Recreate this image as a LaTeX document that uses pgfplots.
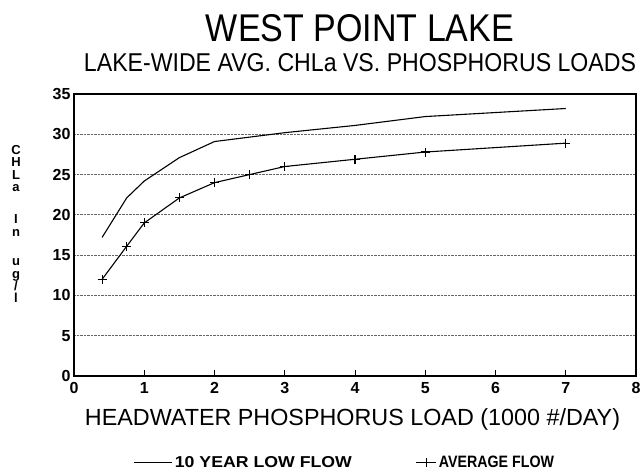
\documentclass[border=0pt]{standalone}
\usepackage{fontspec}
\setmainfont{Liberation Sans}
\usepackage{pgfplots}
\pgfplotsset{compat=1.18}
\begin{document}
\begin{tikzpicture}[x=1pt,y=1pt]
\path[use as bounding box] (0,0) rectangle (644,475);
\begin{axis}[
  at={(74pt,99pt)}, anchor=south west,
  scale only axis, width=562pt, height=282pt,
  xmin=0, xmax=8, ymin=0, ymax=35,
  xtick={0,...,8}, ytick={0,5,...,35},
  /pgf/number format/assume math mode=true,
  ticklabel style={font=\bfseries\fontsize{16}{16}\selectfont},
  xticklabel style={yshift=-3pt},
  xtick align=inside, xtick pos=left, major tick length=6pt,
  ytick style={draw=none},
  ymajorgrids, grid style={black!60, densely dotted, line width=0.8pt},
  axis line style={line width=1.3pt},
  xtick style={line width=1pt, black},
  legend columns=2,
  legend style={at={(0.482,-0.307)}, anchor=center, draw=none, fill=none,
    nodes={inner sep=2pt},
    /tikz/every even column/.append style={column sep=62pt}},
  clip=false
]
\addplot[black, line width=1.1pt,
  legend image code/.code={\draw (0pt,0pt) -- (38pt,0pt);}]
  coordinates {(0.4,17.2) (0.75,22.1) (1.0,24.2) (1.5,27.1) (2.0,29.1) (3.0,30.2) (4.0,31.1) (5.0,32.2) (7.0,33.2)};
\addlegendentry{\resizebox{177pt}{11pt}{\bfseries 10 YEAR LOW FLOW}}
\addplot[black, line width=1.1pt, mark=+, mark size=4.5pt,
  legend image code/.code={\draw[mark repeat=2,mark phase=2] plot coordinates {(0pt,0pt) (10pt,0pt) (20pt,0pt)};}]
  coordinates {(0.4,12.0) (0.75,16.1) (1.0,19.0) (1.5,22.1) (2.0,24.0) (2.5,25.0) (3.0,26.0) (4.0,26.9) (5.0,27.8) (7.0,28.9)};
\addlegendentry{\resizebox{115pt}{11.5pt}{\bfseries AVERAGE FLOW}}
\end{axis}
\node[anchor=base, inner sep=0] at (360,433) {\resizebox{308pt}{27pt}{WEST POINT LAKE}};
\node[anchor=base, inner sep=0] at (360,403) {\resizebox{552pt}{18pt}{LAKE-WIDE AVG. CHLa VS. PHOSPHORUS LOADS}};
\node[anchor=base, inner sep=0] at (352.5,50) {\resizebox{535pt}{!}{HEADWATER PHOSPHORUS LOAD (1000 \#/DAY)}};
\node[anchor=north, inner sep=0, align=center, font=\bfseries\fontsize{13}{12.4}\selectfont]
  at (16,330) {C\\H\\L\\a\\[20pt]I\\n\\[17pt]u\\g\\/\\l};
\end{tikzpicture}
\end{document}
